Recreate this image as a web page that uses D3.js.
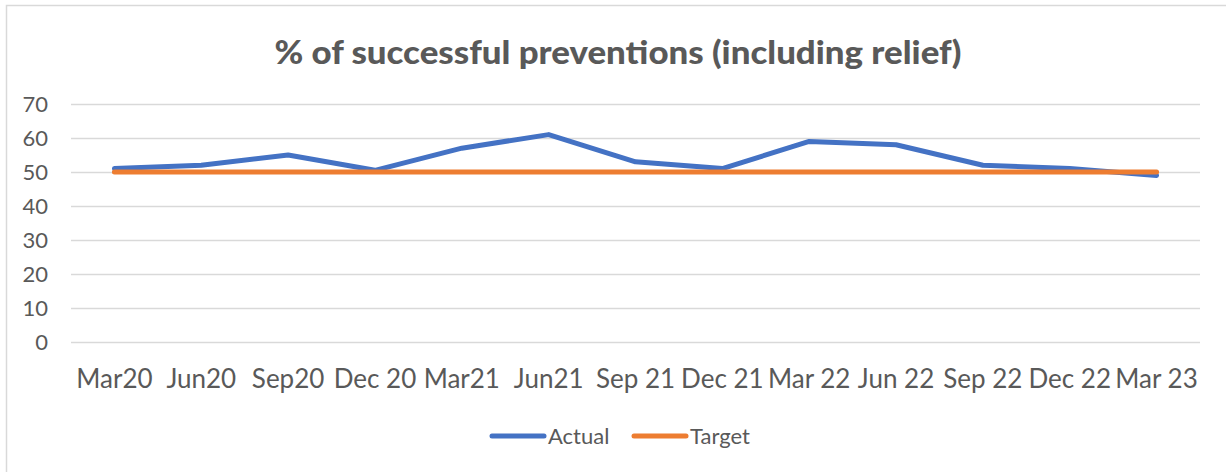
<!DOCTYPE html>
<html>
<head>
<meta charset="utf-8">
<script src="https://cdn.jsdelivr.net/npm/d3@7"></script>
<style>
  body { margin: 0; background: #fff; }
  text { font-family: Lato, "Open Sans", sans-serif; fill: #595959; }
</style>
</head>
<body>
<script>
var categories = ["Mar20", "Jun20", "Sep20", "Dec 20", "Mar21", "Jun21", "Sep 21", "Dec 21", "Mar 22", "Jun 22", "Sep 22", "Dec 22", "Mar 23"];
var actual = [51, 52, 55, 50.5, 57, 61, 53, 51, 59, 58, 52, 51, 49];
var target = [50, 50, 50, 50, 50, 50, 50, 50, 50, 50, 50, 50, 50];
var yTicks = [0, 10, 20, 30, 40, 50, 60, 70];
var title = "% of successful preventions (including relief)";

var width = 1226;
var height = 472;
var margin = { top: 104, bottom: 130, left: 71, right: 26 };

var svg = d3.select("body")
    .append("svg")
    .attr("width", width)
    .attr("height", height);

// chart border
svg.append("rect")
    .attr("x", 6.5)
    .attr("y", 5.5)
    .attr("width", 1240)
    .attr("height", 500)
    .attr("fill", "none")
    .attr("stroke", "#d9d9d9")
    .attr("stroke-width", 1.5);

svg.append("text")
    .attr("x", 618)
    .attr("y", 64)
    .attr("text-anchor", "middle")
    .attr("textLength", 687)
    .attr("lengthAdjust", "spacingAndGlyphs")
    .style("font-size", "33px")
    .style("font-weight", "900")
    .text(title);

var plotW = 1200 - margin.left;
var plotH = 342 - margin.top;

var chart = svg.append("g")
    .attr("transform", "translate(" + margin.left + "," + margin.top + ")");

var x = d3.scaleBand()
    .domain(categories)
    .range([0, plotW]);

var y = d3.scaleLinear()
    .domain([0, 70])
    .range([plotH, 0]);

// gridlines
chart.append("g")
    .call(d3.axisLeft(y)
        .tickValues(yTicks)
        .tickSize(-plotW)
        .tickFormat(""))
    .call(function (g) {
        g.select(".domain").remove();
        g.selectAll("line").attr("stroke", "#d9d9d9").attr("stroke-width", 1.3);
    });

// y labels
chart.append("g")
    .call(d3.axisLeft(y)
        .tickValues(yTicks)
        .tickSize(0)
        .tickPadding(23))
    .call(function (g) {
        g.select(".domain").remove();
        g.selectAll("text")
            .style("font-size", "22px")
            .attr("fill", "#595959")
            .attr("dy", "0.36em");
    });

// x labels
chart.append("g")
    .attr("transform", "translate(0," + plotH + ")")
    .call(d3.axisBottom(x).tickSize(0).tickPadding(28))
    .call(function (g) {
        g.select(".domain").remove();
        g.selectAll("text")
            .style("font-size", "26px")
            .attr("fill", "#595959");
    });

var line = d3.line()
    .x(function (d, i) { return x(categories[i]) + x.bandwidth() / 2; })
    .y(function (d) { return y(d); });

chart.append("path")
    .datum(actual)
    .attr("d", line)
    .attr("fill", "none")
    .attr("stroke", "#4472c4")
    .attr("stroke-width", 5)
    .attr("stroke-linejoin", "round")
    .attr("stroke-linecap", "round");

chart.append("path")
    .datum(target)
    .attr("d", line)
    .attr("fill", "none")
    .attr("stroke", "#ed7d31")
    .attr("stroke-width", 5)
    .attr("stroke-linejoin", "round")
    .attr("stroke-linecap", "round");

// legend
var legend = [
    { name: "Actual", color: "#4472c4", x: 492 },
    { name: "Target", color: "#ed7d31", x: 634 }
];

var lg = svg.selectAll(".legend")
    .data(legend)
    .enter()
    .append("g")
    .attr("class", "legend")
    .attr("transform", function (d) { return "translate(" + d.x + ",436)"; });

lg.append("line")
    .attr("x1", 0)
    .attr("x2", 52)
    .attr("stroke", function (d) { return d.color; })
    .attr("stroke-width", 5)
    .attr("stroke-linecap", "round");

lg.append("text")
    .attr("x", 56)
    .attr("y", 8)
    .style("font-size", "22px")
    .text(function (d) { return d.name; });
</script>
</body>
</html>
